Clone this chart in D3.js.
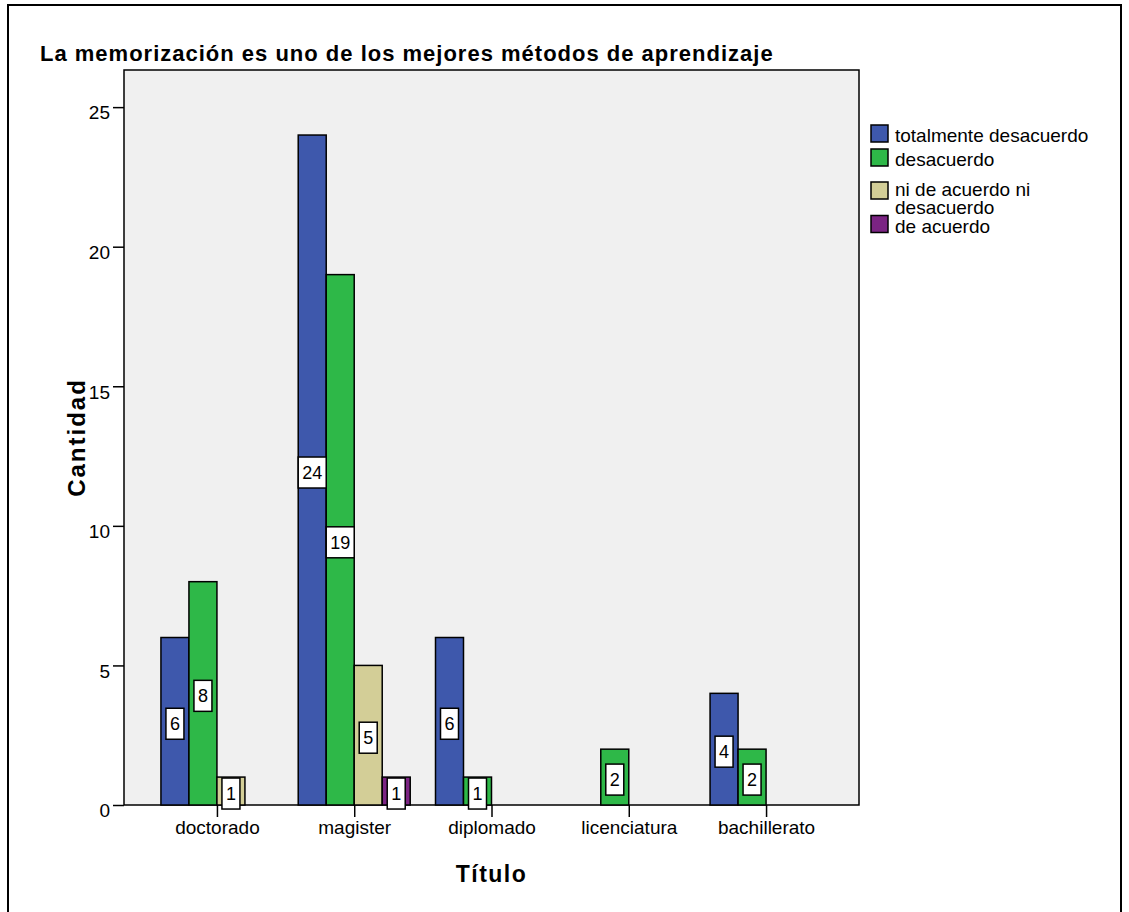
<!DOCTYPE html>
<html>
<head>
<meta charset="utf-8">
<script src="https://cdn.jsdelivr.net/npm/d3@7"></script>
<style>
  body { margin: 0; background: #fff; }
  svg text { font-family: "Liberation Sans", Arial, sans-serif; fill: #000; }
</style>
</head>
<body>
<svg width="1129" height="912"></svg>
<script>
var svg = d3.select("svg");

// Data
var categories = ["doctorado", "magister", "diplomado", "licenciatura", "bachillerato"];
var seriesNames = ["totalmente desacuerdo", "desacuerdo", "ni de acuerdo ni desacuerdo", "de acuerdo"];
var legendLines = [["totalmente desacuerdo"], ["desacuerdo"], ["ni de acuerdo ni", "desacuerdo"], ["de acuerdo"]];
var totalmenteDesacuerdo = [6, 24, 6, 0, 4];
var desacuerdo = [8, 19, 1, 2, 2];
var niDeAcuerdoNiDesacuerdo = [1, 5, 0, 0, 0];
var deAcuerdo = [0, 1, 0, 0, 0];
var yTicks = [0, 5, 10, 15, 20, 25];
var colors = ["#3e58ac", "#2eb848", "#d3ce97", "#7b2483"];

var seriesValues = [totalmenteDesacuerdo, desacuerdo, niDeAcuerdoNiDesacuerdo, deAcuerdo];

// Plot box
var plotLeft = 124, plotRight = 859, plotTop = 70, plotBottom = 805;

// Outer frame
svg.append("rect")
  .attr("x", 8).attr("y", 5)
  .attr("width", 1113).attr("height", 930)
  .attr("fill", "none").attr("stroke", "#000").attr("stroke-width", 2);

// Scales
var x = d3.scalePoint().domain(categories).range([plotLeft, plotRight]).padding(0.677);
var xs = d3.scaleBand().domain(seriesNames).range([-56, 56]);
var y = d3.scaleLinear().domain([0, 26.33]).range([plotBottom, plotTop]);
var color = d3.scaleOrdinal().domain(seriesNames).range(colors);

svg.append("rect")
  .attr("x", plotLeft).attr("y", plotTop)
  .attr("width", plotRight - plotLeft).attr("height", plotBottom - plotTop)
  .attr("fill", "#f0f0f0").attr("stroke", "#000").attr("stroke-width", 1.5);

// Title
svg.append("text")
  .attr("x", 40).attr("y", 61)
  .style("font-size", "22px").style("font-weight", "bold").style("letter-spacing", "1px")
  .text("La memorización es uno de los mejores métodos de aprendizaje");

// Axes
var yAxis = svg.append("g")
  .attr("transform", "translate(" + plotLeft + ",0)")
  .call(d3.axisLeft(y).tickValues(yTicks).tickSize(11).tickPadding(3).tickFormat(d3.format("d")));
yAxis.select(".domain").remove();
yAxis.selectAll(".tick line").attr("stroke", "#000").attr("stroke-width", 1.5);
yAxis.selectAll(".tick text").style("font-size", "19px").style("font-family", "Liberation Sans, Arial, sans-serif")
  .attr("dy", "0.62em");

var xAxis = svg.append("g")
  .attr("transform", "translate(0," + plotBottom + ")")
  .call(d3.axisBottom(x).tickSize(12).tickPadding(4));
xAxis.select(".domain").remove();
xAxis.selectAll(".tick line").attr("stroke", "#000").attr("stroke-width", 1.5);
xAxis.selectAll(".tick text").style("font-size", "19px").style("font-family", "Liberation Sans, Arial, sans-serif");

// Axis titles
svg.append("text")
  .attr("transform", "translate(85," + ((plotTop + plotBottom) / 2) + ") rotate(-90)")
  .attr("text-anchor", "middle")
  .style("font-size", "24px").style("font-weight", "bold").style("letter-spacing", "2px")
  .text("Cantidad");

svg.append("text")
  .attr("x", (plotLeft + plotRight) / 2).attr("y", 882)
  .attr("text-anchor", "middle")
  .style("font-size", "23px").style("font-weight", "bold").style("letter-spacing", "1.5px")
  .text("Título");

// Bars
var bars = [];
seriesNames.forEach(function (s, si) {
  categories.forEach(function (c, ci) {
    var v = seriesValues[si][ci];
    if (v > 0) bars.push({ series: s, cat: c, value: v });
  });
});

svg.append("g").selectAll("rect")
  .data(bars)
  .enter().append("rect")
  .attr("x", function (d) { return x(d.cat) + xs(d.series); })
  .attr("y", function (d) { return y(d.value); })
  .attr("width", xs.bandwidth())
  .attr("height", function (d) { return y(0) - y(d.value); })
  .attr("fill", function (d) { return color(d.series); })
  .attr("stroke", "#000").attr("stroke-width", 1.5);

// Value labels
var labels = svg.append("g").selectAll("g")
  .data(bars)
  .enter().append("g")
  .attr("transform", function (d) {
    var cx = x(d.cat) + xs(d.series) + xs.bandwidth() / 2;
    var cy = (y(d.value) + y(0)) / 2 + 2.5;
    return "translate(" + cx + "," + cy + ")";
  });

labels.append("rect")
  .attr("x", function (d) { return -(String(d.value).length * 10 + 8) / 2; })
  .attr("y", -15.5)
  .attr("width", function (d) { return String(d.value).length * 10 + 8; })
  .attr("height", 31)
  .attr("fill", "#fff").attr("stroke", "#000").attr("stroke-width", 1.5);

labels.append("text")
  .attr("text-anchor", "middle")
  .attr("y", 6.5)
  .style("font-size", "18px")
  .text(function (d) { return d.value; });

// Legend
var ly = 142;
legendLines.forEach(function (lines, i) {
  if (lines.length > 1) ly += 6;
  var sqBottom = lines.length > 1 ? ly + 3 : ly;
  svg.append("rect")
    .attr("x", 871).attr("y", sqBottom - 17)
    .attr("width", 17).attr("height", 17)
    .attr("fill", colors[i]).attr("stroke", "#000").attr("stroke-width", 1.5);
  var t = svg.append("text").attr("x", 895).attr("y", ly).style("font-size", "19px");
  lines.forEach(function (line, li) {
    t.append("tspan").attr("x", 895).attr("dy", li === 0 ? 0 : 17.5).text(line);
  });
  ly += (lines.length - 1) * 17.5 + (lines.length > 1 ? 19 : 24);
});
</script>
</body>
</html>
